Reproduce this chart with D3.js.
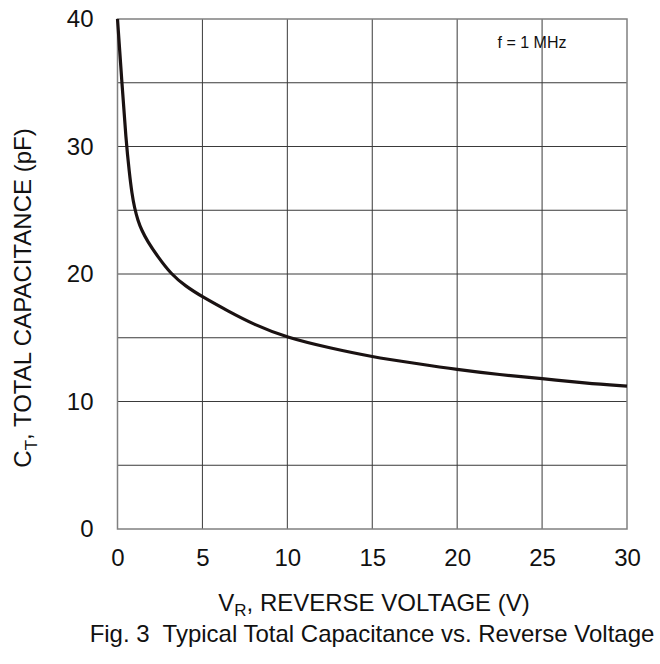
<!DOCTYPE html>
<html><head><meta charset="utf-8">
<script src="https://cdn.jsdelivr.net/npm/d3@7"></script>
<style>body{margin:0;background:#fff;} svg{display:block;font-family:"Liberation Sans",Arial,sans-serif;}</style>
</head><body>
<script>
const voltage = [0, 0.26, 0.5, 0.7, 0.85, 1.0, 1.2, 1.42, 1.75, 2.4, 3.15, 4, 5, 6.5, 8, 10, 12.5, 15, 17.5, 20, 22.5, 25, 27.5, 30];
const capacitance = [40, 35, 30.5, 27.9, 26.3, 25.2, 24.2, 23.45, 22.6, 21.3, 20, 19.05, 18.2, 17.1, 16.05, 15, 14.2, 13.5, 13, 12.5, 12.1, 11.8, 11.45, 11.2];
const xTicks = [0, 5, 10, 15, 20, 25, 30];
const yTicks = [0, 10, 20, 30, 40];
const yGrid = [0, 5, 10, 15, 20, 25, 30, 35, 40];

const W = 660, H = 664;
const L = 117.5, R = 627, T = 19, B = 529;
const FONT = "'Liberation Sans', Arial, sans-serif";
const svg = d3.select("body").append("svg").attr("width", W).attr("height", H);
const x = d3.scaleLinear().domain([0, 30]).range([L, R]);
const y = d3.scaleLinear().domain([0, 40]).range([B, T]);

svg.append("g").selectAll("line").data(xTicks.slice(1, -1)).join("line")
  .attr("x1", d => x(d)).attr("x2", d => x(d)).attr("y1", T).attr("y2", B)
  .attr("stroke", "#3a3a3a").attr("stroke-width", 1);
svg.append("g").selectAll("line").data(yGrid.slice(1, -1)).join("line")
  .attr("x1", L).attr("x2", R).attr("y1", d => y(d)).attr("y2", d => y(d))
  .attr("stroke", "#3a3a3a").attr("stroke-width", 1);
svg.append("rect").attr("x", L).attr("y", T).attr("width", R - L).attr("height", B - T)
  .attr("fill", "none").attr("stroke", "#808080").attr("stroke-width", 1.5);

const xAxis = svg.append("g").attr("transform", `translate(0,${B})`)
  .call(d3.axisBottom(x).tickValues(xTicks).tickSize(0).tickPadding(20).tickFormat(d3.format("d")));
const yAxis = svg.append("g").attr("transform", `translate(${L},0)`)
  .call(d3.axisLeft(y).tickValues(yTicks).tickSize(0).tickPadding(24).tickFormat(d3.format("d")));
[xAxis, yAxis].forEach(a => {
  a.select(".domain").remove();
  a.selectAll("text").attr("font-size", 24).attr("fill", "#111").attr("font-family", FONT);
});

const pts = voltage.map((v, i) => [v, capacitance[i]]);
svg.append("path").datum(pts)
  .attr("d", d3.line().x(d => x(d[0])).y(d => y(d[1])).curve(d3.curveBasis))
  .attr("fill", "none").attr("stroke", "#1a1212").attr("stroke-width", 3.2).attr("stroke-linejoin", "round");

svg.append("text").attr("x", 532).attr("y", 48).attr("text-anchor", "middle")
  .attr("font-size", 16).attr("fill", "#111").attr("font-family", FONT).text("f = 1 MHz");

const xt = svg.append("text").attr("x", 374).attr("y", 611).attr("text-anchor", "middle")
  .attr("font-size", 24).attr("fill", "#111").attr("font-family", FONT);
xt.append("tspan").text("V");
xt.append("tspan").attr("font-size", 17).attr("dy", 5).text("R");
xt.append("tspan").attr("dy", -5).text(", REVERSE VOLTAGE (V)");

const yt = svg.append("text").attr("transform", "translate(31,298) rotate(-90)").attr("text-anchor", "middle")
  .attr("font-size", 24).attr("fill", "#111").attr("font-family", FONT);
yt.append("tspan").text("C");
yt.append("tspan").attr("font-size", 17).attr("dy", 6).text("T");
yt.append("tspan").attr("dy", -6).text(", TOTAL CAPACITANCE (pF)");

svg.append("text").attr("x", 372).attr("y", 642).attr("text-anchor", "middle").attr("xml:space", "preserve")
  .attr("font-size", 24).attr("fill", "#111").attr("font-family", FONT)
  .style("white-space", "pre").text("Fig. 3  Typical Total Capacitance vs. Reverse Voltage");
</script>
</body></html>
